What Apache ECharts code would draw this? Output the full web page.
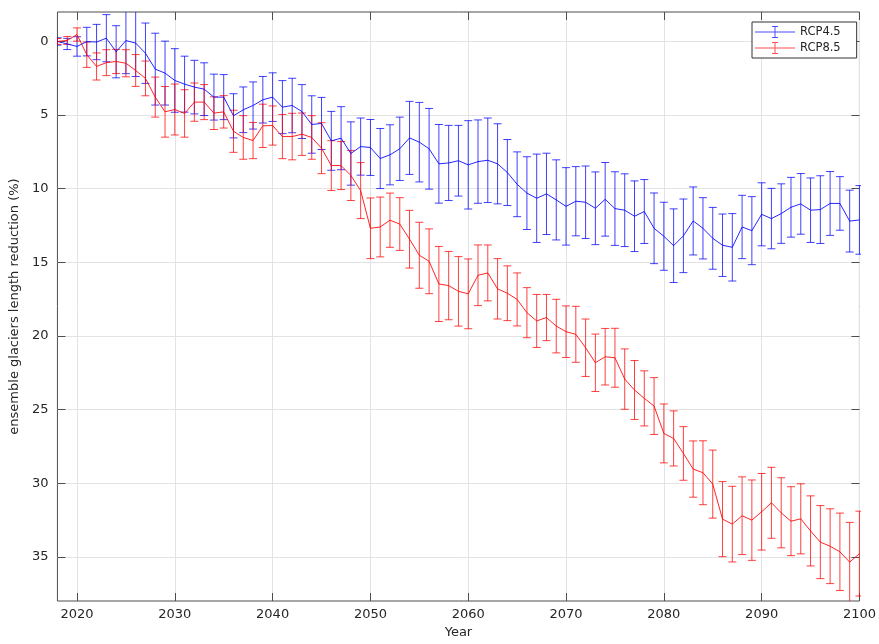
<!DOCTYPE html>
<html>
<head>
<meta charset="utf-8">
<script src="https://cdn.jsdelivr.net/npm/echarts@6/dist/echarts.min.js"></script>
<style>
html,body{margin:0;padding:0;background:#fff;}
#chart{width:879px;height:644px;}
</style>
</head>
<body>
<div id="chart"></div>
<script>
const years = [2018,2019,2020,2021,2022,2023,2024,2025,2026,2027,2028,2029,
2030,2031,2032,2033,2034,2035,2036,2037,2038,2039,
2040,2041,2042,2043,2044,2045,2046,2047,2048,2049,
2050,2051,2052,2053,2054,2055,2056,2057,2058,2059,
2060,2061,2062,2063,2064,2065,2066,2067,2068,2069,
2070,2071,2072,2073,2074,2075,2076,2077,2078,2079,
2080,2081,2082,2083,2084,2085,2086,2087,2088,2089,
2090,2091,2092,2093,2094,2095,2096,2097,2098,2099,2100];

const rcp45Mean = [0.0,0.17,0.34,0.01,0.04,-0.22,0.7,-0.06,0.11,0.8,1.88,2.15,
2.65,2.9,3.1,3.24,3.78,3.78,5.05,4.64,4.35,3.96,
3.78,4.46,4.35,4.76,5.64,5.57,6.75,6.57,7.61,7.14,
7.2,7.95,7.7,7.29,6.55,6.84,7.29,8.31,8.25,8.1,
8.38,8.16,8.07,8.31,8.9,9.7,10.3,10.65,10.35,10.76,
11.2,10.85,10.92,11.33,10.72,11.35,11.46,11.87,11.55,12.69,
13.23,13.87,13.2,12.19,12.69,13.37,13.84,13.98,12.6,12.85,
11.74,12.03,11.69,11.26,11.03,11.46,11.42,11.0,11.0,12.2,12.12];

const rcp45Err = [0.25,0.38,0.66,0.97,1.2,1.6,1.77,2.25,2.27,2.05,2.44,2.17,
2.16,1.9,1.82,1.79,1.56,1.53,1.5,1.55,1.6,1.58,
1.65,1.8,1.85,1.83,1.95,1.77,2.0,2.14,2.15,1.94,
1.9,2.04,2.04,2.15,2.48,2.7,2.74,2.67,2.55,2.4,
3.0,2.83,2.87,2.72,2.24,2.2,2.47,3.0,2.76,2.72,
2.63,2.35,2.46,2.47,2.5,2.5,2.47,2.4,2.17,2.4,
2.31,2.5,2.5,2.31,2.08,2.1,2.12,2.29,2.15,2.31,
2.14,2.05,2.02,2.03,2.06,2.19,2.3,2.17,1.82,2.1,2.33];

const rcp85Mean = [0.0,-0.07,-0.47,0.9,1.7,1.44,1.36,1.48,1.97,2.51,3.78,4.78,
4.62,4.89,4.12,4.12,4.87,4.78,6.1,6.52,6.73,5.73,
5.71,6.46,6.46,6.3,6.52,7.25,8.43,8.43,9.1,10.13,
12.69,12.6,12.14,12.4,13.43,14.52,14.93,16.47,16.58,16.97,
17.14,15.88,15.72,16.8,17.1,17.52,18.42,18.98,18.75,19.33,
19.71,19.89,20.8,21.82,21.41,21.48,22.93,23.67,24.24,24.76,
26.62,26.96,27.98,29.04,29.29,30.06,32.44,32.78,32.21,32.51,
31.94,31.33,32.01,32.58,32.42,33.24,34.0,34.28,34.66,35.36,34.78];

const rcp85Err = [0.2,0.27,0.45,0.86,0.92,0.88,0.82,0.92,1.08,1.18,1.36,1.72,
1.73,1.61,1.3,1.19,1.11,1.1,1.43,1.48,1.23,1.47,
1.33,1.5,1.58,1.44,1.48,1.73,1.69,1.63,1.7,1.9,
2.06,2.03,1.84,1.79,1.96,2.24,2.2,2.55,2.32,2.36,
2.37,2.06,1.9,2.05,1.86,1.8,1.7,1.8,1.57,1.82,
1.75,1.9,1.95,1.95,1.92,2.0,2.05,2.0,1.87,1.93,
2.0,1.87,1.82,1.91,2.17,2.31,2.55,2.57,2.64,2.73,
2.6,2.41,2.38,2.34,2.38,2.38,2.48,2.54,2.63,2.7,2.88];

const xTicks = [2020,2030,2040,2050,2060,2070,2080,2090,2100];
const yTicks = [0,5,10,15,20,25,30,35];
const seriesNames = ['RCP4.5','RCP8.5'];

const FONT = 'DejaVu Sans, sans-serif';
const AXIS_COLOR = '#4d4d4d';
const TEXT_COLOR = '#262626';

function lineData(means){ return years.map((y,i)=>[y, means[i]]); }
function errData(means, errs){ return years.map((y,i)=>[y, means[i]-errs[i], means[i]+errs[i]]); }

function errRender(color){
  return function(params, api){
    const x = api.value(0);
    const lo = api.coord([x, api.value(1)]);
    const hi = api.coord([x, api.value(2)]);
    const cw = 4;
    const style = {stroke: color, lineWidth: 1, fill: null};
    return {
      type: 'group',
      children: [
        {type:'line', shape:{x1:lo[0], y1:lo[1], x2:hi[0], y2:hi[1]}, style: style},
        {type:'line', shape:{x1:lo[0]-cw, y1:lo[1], x2:lo[0]+cw, y2:lo[1]}, style: style},
        {type:'line', shape:{x1:hi[0]-cw, y1:hi[1], x2:hi[0]+cw, y2:hi[1]}, style: style}
      ]
    };
  };
}

const legendIcon = 'path://M0,5.5H40V6.5H0Z M19.5,0H20.5V12H19.5Z M17,0H23V1H17Z M17,11H23V12H17Z';

const chart = echarts.init(document.getElementById('chart'), null, {renderer:'canvas'});
const fmt = v => String(v);

chart.setOption({
  animation: false,
  backgroundColor: '#ffffff',
  grid: {left: 54, right: 19, top: 12, bottom: 39, show: true, borderColor: AXIS_COLOR, borderWidth: 1, backgroundColor: '#ffffff'},
  legend: {
    data: [{name: seriesNames[0], icon: legendIcon}, {name: seriesNames[1], icon: legendIcon}],
    orient: 'vertical', align: 'left',
    left: 752, top: 22,
    itemWidth: 40, itemHeight: 12, itemGap: 4,
    padding: [4, 16, 4, 3],
    borderColor: '#333', borderWidth: 1, backgroundColor: '#fff',
    textStyle: {fontFamily: FONT, fontSize: 11.5, color: TEXT_COLOR},
    selectedMode: false
  },
  xAxis: [
    {
      type: 'value', min: 2018, max: 2100, position: 'bottom',
      name: 'Year', nameLocation: 'middle', nameGap: 25,
      nameTextStyle: {fontFamily: FONT, fontSize: 13, color: TEXT_COLOR},
      axisLine: {show: false, onZero: false},
      axisTick: {show: true, inside: true, length: 8, customValues: xTicks, lineStyle: {color: AXIS_COLOR}},
      axisLabel: {customValues: xTicks, formatter: fmt, fontFamily: FONT, fontSize: 13, color: TEXT_COLOR, margin: 7},
      splitLine: {show: true, lineStyle: {color: '#e3e3e3', width: 1}}
    },
    {
      type: 'value', min: 2018, max: 2100, position: 'top',
      axisLine: {show: false, onZero: false},
      axisTick: {show: true, inside: true, length: 8, customValues: xTicks, lineStyle: {color: AXIS_COLOR}},
      axisLabel: {show: false, customValues: xTicks},
      splitLine: {show: false}
    }
  ],
  yAxis: [
    {
      type: 'value', min: -2, max: 38, inverse: true, position: 'left',
      name: 'ensemble glaciers length reduction (%)', nameLocation: 'middle', nameGap: 26,
      nameRotate: 90,
      nameTextStyle: {fontFamily: FONT, fontSize: 13, color: TEXT_COLOR},
      axisLine: {show: false, onZero: false},
      axisTick: {show: true, inside: true, length: 8, customValues: yTicks, lineStyle: {color: AXIS_COLOR}},
      axisLabel: {customValues: yTicks, formatter: fmt, fontFamily: FONT, fontSize: 13, color: TEXT_COLOR, margin: 9},
      splitLine: {show: true, lineStyle: {color: '#e3e3e3', width: 1}}
    },
    {
      type: 'value', min: -2, max: 38, inverse: true, position: 'right',
      axisLine: {show: false, onZero: false},
      axisTick: {show: true, inside: true, length: 8, customValues: yTicks, lineStyle: {color: AXIS_COLOR}},
      axisLabel: {show: false, customValues: yTicks},
      splitLine: {show: false}
    }
  ],
  series: [
    {
      name: 'err45', type: 'custom', xAxisIndex: 0, yAxisIndex: 0, clip: true,
      renderItem: errRender('rgba(0,0,255,0.75)'),
      encode: {x: 0, y: [1, 2]},
      data: errData(rcp45Mean, rcp45Err), z: 2
    },
    {
      name: 'err85', type: 'custom', xAxisIndex: 0, yAxisIndex: 0, clip: true,
      renderItem: errRender('rgba(255,0,0,0.75)'),
      encode: {x: 0, y: [1, 2]},
      data: errData(rcp85Mean, rcp85Err), z: 3
    },
    {
      name: seriesNames[0], type: 'line', xAxisIndex: 0, yAxisIndex: 0,
      data: lineData(rcp45Mean), showSymbol: false, symbol: 'none',
      lineStyle: {color: 'rgba(0,0,255,0.85)', width: 1},
      itemStyle: {color: '#4d4dff'}, z: 4
    },
    {
      name: seriesNames[1], type: 'line', xAxisIndex: 0, yAxisIndex: 0,
      data: lineData(rcp85Mean), showSymbol: false, symbol: 'none',
      lineStyle: {color: 'rgba(255,0,0,0.85)', width: 1},
      itemStyle: {color: '#ff4d4d'}, z: 5
    }
  ]
});
</script>
</body>
</html>
